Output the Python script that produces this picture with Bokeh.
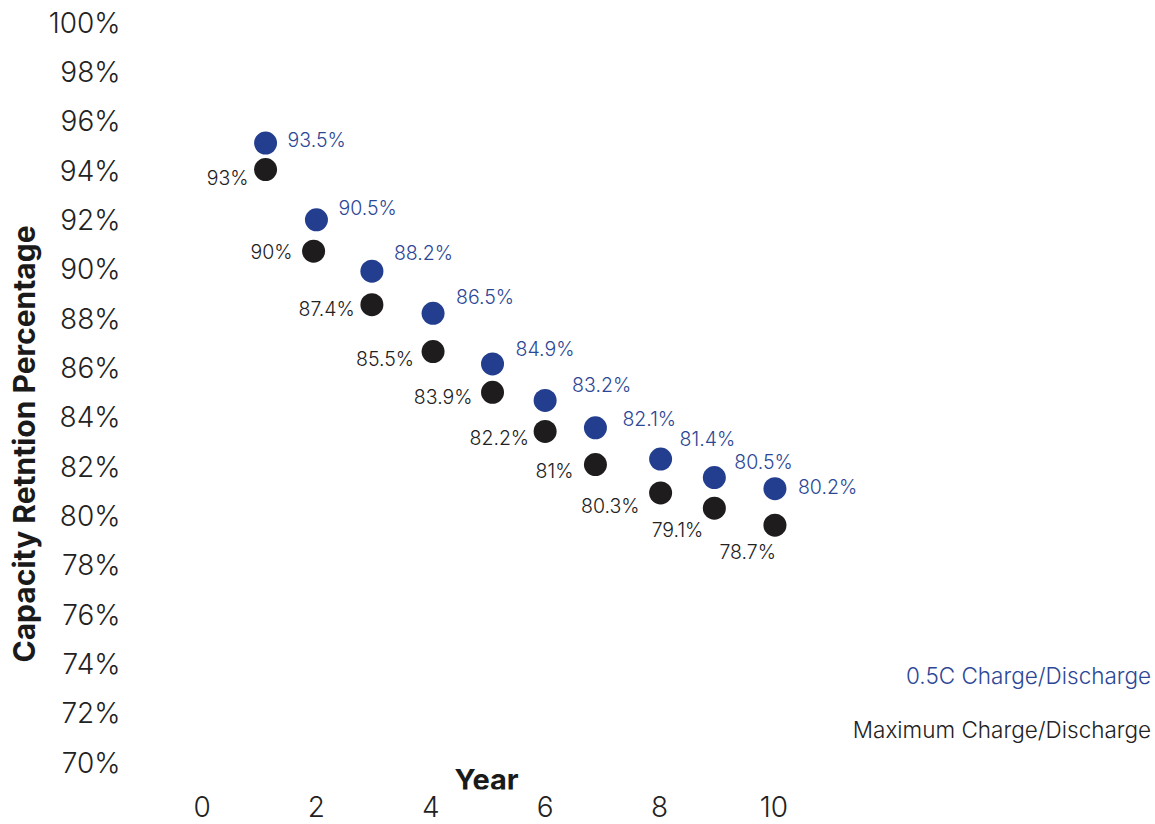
from bokeh.plotting import figure
from bokeh.models import ColumnDataSource, FixedTicker, PrintfTickFormatter, Label, Range1d, Title
from bokeh.core.properties import value
from bokeh.embed import file_html
from bokeh.resources import INLINE

# ---- data ----
years_blue = [1.11, 2.0, 2.97, 4.04, 5.08, 6.0, 6.88, 8.02, 8.96, 10.02]
years_black = [1.11, 1.95, 2.97, 4.04, 5.08, 6.0, 6.88, 8.02, 8.96, 10.02]
retention_blue = [95.11, 92.0, 89.92, 88.21, 86.16, 84.68, 83.57, 82.30, 81.55, 81.10]
retention_black = [94.04, 90.73, 88.56, 86.66, 85.01, 83.42, 82.08, 80.93, 80.31, 79.62]
labels_blue = ["93.5%", "90.5%", "88.2%", "86.5%", "84.9%", "83.2%", "82.1%", "81.4%", "80.5%", "80.2%"]
labels_black = ["93%", "90%", "87.4%", "85.5%", "83.9%", "82.2%", "81%", "80.3%", "79.1%", "78.7%"]
y_ticks = list(range(70, 101, 2))
x_ticks = list(range(0, 11, 2))
series_names = ["0.5C Charge/Discharge", "Maximum Charge/Discharge"]

# ---- label layout (pixel offsets of value labels) ----
blue_dx = [22, 22, 22, 23, 23, 27, 27, 19, 20, 23]
blue_dy = [-3, -12, -18, -16, -15, -15, -9, -20, -16, -2]
black_dx = [-17, -21, -17, -19, -20, -16, -22, -21, -11, 1]
black_dy = [8, 1, 4, 7, 5, 7, 6, 13, 22, 27]

BLUE = "#233e8e"
BLUE_TXT = "#2c4796"
BLACK = "#1f1c1d"
TXT = "#222222"
FONT = "Inter"
LIGHT = "'Inter Light', Inter"

src_blue = ColumnDataSource(dict(x=years_blue, y=retention_blue, label=labels_blue, dx=blue_dx, dy=blue_dy))
src_black = ColumnDataSource(dict(x=years_black, y=retention_black, label=labels_black, dx=black_dx, dy=black_dy))

p = figure(frame_width=1022, frame_height=789,
           x_range=Range1d(-1.2524, 16.624), y_range=Range1d(68.906, 100.892),
           output_backend="svg", toolbar_location=None,
           min_border_left=130, min_border_right=0, min_border_top=0, min_border_bottom=35)
p.grid.visible = False
p.outline_line_color = None
p.background_fill_color = "white"
p.border_fill_color = "white"

ya = p.yaxis[0]
ya.ticker = FixedTicker(ticks=y_ticks)
ya.formatter = PrintfTickFormatter(format="%d%%")
ya.axis_line_color = None
ya.major_tick_line_color = None
ya.minor_tick_line_color = None
ya.major_tick_out = 0
ya.major_tick_in = 0
ya.major_label_standoff = 10
ya.major_label_text_font = LIGHT
ya.major_label_text_font_size = "28px"
ya.major_label_text_color = TXT

xa = p.xaxis[0]
xa.ticker = FixedTicker(ticks=x_ticks)
xa.axis_line_color = None
xa.major_tick_line_color = None
xa.minor_tick_line_color = None
xa.major_tick_out = 0
xa.major_tick_in = 0
xa.major_label_standoff = 6
xa.major_label_text_font = LIGHT
xa.major_label_text_font_size = "28px"
xa.major_label_text_color = TXT

# y axis title (left panel, placed along the frame)
p.add_layout(Title(text="Capacity Retntion Percentage", align="left", vertical_align="middle",
                   offset=127, standoff=6,
                   text_font=FONT, text_font_style="bold", text_font_size="30px",
                   text_color="#1a1a1a"), "left")

p.scatter("x", "y", source=src_blue, size=23, fill_color=BLUE, line_color=None)
p.scatter("x", "y", source=src_black, size=23, fill_color=BLACK, line_color=None)

p.text("x", "y", text="label", source=src_blue, x_offset="dx", y_offset="dy",
       text_align="left", text_baseline="middle", text_font=value(LIGHT),
       text_font_size="19.5px", text_color=BLUE_TXT)
p.text("x", "y", text="label", source=src_black, x_offset="dx", y_offset="dy",
       text_align="right", text_baseline="middle", text_font=value(LIGHT),
       text_font_size="19.5px", text_color=TXT)

# x axis title sits between the frame content and the tick labels
p.add_layout(Label(x=4.975, y=69.31, text="Year", text_align="center", text_baseline="middle",
                   text_font=FONT, text_font_style="bold", text_font_size="29px", text_color="#1a1a1a"))

# series key (text only, coloured like the series)
p.add_layout(Label(x=16.6, y=73.53, text=series_names[0], text_align="right", text_baseline="middle",
                   text_font=LIGHT, text_font_size="22.5px", text_color=BLUE_TXT))
p.add_layout(Label(x=16.6, y=71.34, text=series_names[1], text_align="right", text_baseline="middle",
                   text_font=LIGHT, text_font_size="22.5px", text_color=TXT))

open("out.html", "w").write(file_html(p, INLINE))
